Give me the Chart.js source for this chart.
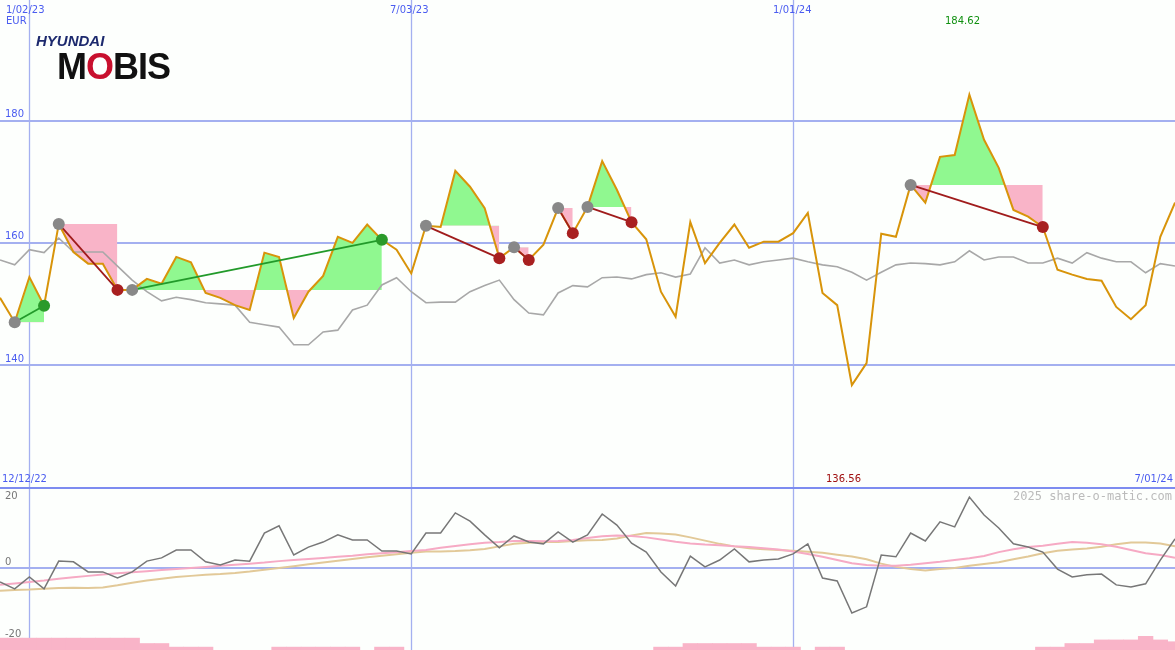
<!DOCTYPE html>
<html><head><meta charset="utf-8">
<script src="https://cdn.jsdelivr.net/npm/chart.js@4/dist/chart.umd.min.js"></script>
<style>
body{margin:0;background:#fdfffd;width:1175px;height:650px;overflow:hidden;position:relative;font-family:"DejaVu Sans",sans-serif}
#c1{position:absolute;left:0;top:0}
#c2{position:absolute;left:0;top:487px}
.t{position:absolute;font-size:10px;white-space:nowrap}
</style></head><body>
<canvas id="c1" width="1175" height="487"></canvas>
<canvas id="c2" width="1175" height="163"></canvas>
<div class="t" style="left:36px;top:32px;font:italic bold 15px 'Liberation Sans';color:#1d2a6e;letter-spacing:0px">HYUNDAI</div>
<div class="t" style="left:57px;top:46px;font:bold 36px 'Liberation Sans';color:#111;letter-spacing:-1px">M<span style="color:#c8102e">O</span>BIS</div>
<div class="t" style="left:6px;top:4px;color:#4a5cf0">1/02/23</div>
<div class="t" style="left:6px;top:15px;color:#4a5cf0">EUR</div>
<div class="t" style="left:390px;top:4px;color:#4a5cf0">7/03/23</div>
<div class="t" style="left:773px;top:4px;color:#4a5cf0">1/01/24</div>
<div class="t" style="left:945px;top:15px;color:#109010">184.62</div>
<div class="t" style="left:2px;top:473px;color:#4a5cf0">12/12/22</div>
<div class="t" style="left:826px;top:473px;color:#a01010">136.56</div>
<div class="t" style="right:2px;top:473px;color:#4a5cf0">7/01/24</div>
<div class="t" style="right:3px;top:489px;font:12px 'DejaVu Sans Mono';color:#bbbbbb">2025 share-o-matic.com</div>
<script>
const dates=[];{let d=new Date(2022,11,19);for(let i=0;i<81;i++){dates.push((d.getMonth()+1)+'/'+String(d.getDate()).padStart(2,'0')+'/'+String(d.getFullYear()).slice(2));d.setDate(d.getDate()+7);}}
const price=[151.0,147.0,154.4,149.7,163.1,158.5,156.6,156.6,152.3,152.3,154.1,153.3,157.7,156.8,151.8,151.0,149.8,149.0,158.4,157.7,147.7,152.0,154.6,161.0,160.0,163.0,160.5,158.9,155.0,162.8,162.6,171.8,169.2,165.7,157.5,159.3,157.2,159.7,165.7,161.6,165.9,173.4,168.7,163.4,160.6,152.0,147.9,163.4,156.7,160.0,163.0,159.2,160.2,160.2,161.6,164.9,151.8,149.8,136.7,140.3,161.5,161.0,169.5,166.6,174.1,174.4,184.3,176.9,172.3,165.4,164.3,162.6,155.6,154.8,154.1,153.8,149.5,147.5,149.8,161.0,166.6];
const bench=[157.2,156.4,158.9,158.4,160.8,158.5,158.5,158.5,156.2,153.9,152,150.5,151.1,150.7,150.2,150,149.8,147,146.6,146.2,143.3,143.3,145.4,145.7,149,149.8,153.1,154.3,152,150.2,150.3,150.3,152,153,153.9,150.7,148.5,148.2,151.8,153,152.8,154.3,154.4,154.1,154.8,155.1,154.4,154.9,159.2,156.7,157.2,156.4,156.9,157.2,157.5,156.9,156.4,156.1,155.2,153.9,155.2,156.4,156.7,156.6,156.4,156.9,158.7,157.2,157.7,157.7,156.7,156.7,157.5,156.7,158.4,157.5,156.9,156.9,155.1,156.6,156.2];
// signals: [startIndex, endIndex, buy?]
const signals=[[1,3,true],[4,8,false],[9,26,true],[29,34,false],[35,36,false],[38,39,false],[40,43,false],[62,71,false]];
const momentum=[-3.9,-5.8,-2.5,-5.8,1.9,1.7,-1.1,-1.1,-2.8,-1.1,1.9,2.8,5,5,1.7,0.8,2.2,1.9,9.7,11.7,3.6,5.8,7.2,9.2,7.8,7.8,4.7,4.7,3.9,9.7,9.7,15.3,13,9.2,5.6,8.9,7.2,6.7,10,7.2,9.2,15,11.9,6.9,4.4,-1.1,-5,3.3,0.3,2.2,5.3,1.7,2.2,2.5,3.9,6.7,-2.8,-3.6,-12.5,-10.8,3.6,3.1,9.7,7.5,12.8,11.4,19.7,14.7,11.1,6.7,5.8,4.4,-0.3,-2.5,-1.9,-1.7,-4.7,-5.3,-4.4,2.2,8.1];
const avgFast=[-4.7,-4.3,-3.9,-3.5,-3.0,-2.6,-2.2,-1.8,-1.5,-1.2,-0.9,-0.6,-0.3,0.0,0.3,0.6,0.9,1.2,1.5,1.9,2.2,2.5,2.8,3.1,3.4,3.8,4.1,4.4,4.7,5.0,5.6,6.1,6.6,7.0,7.2,7.5,7.5,7.4,7.5,7.8,8.3,8.8,9.0,8.9,8.5,7.9,7.3,6.8,6.5,6.3,6.0,5.8,5.5,5.1,4.6,3.9,3.1,2.2,1.3,0.8,0.6,0.6,0.9,1.3,1.7,2.2,2.7,3.3,4.4,5.2,5.8,6.2,6.7,7.2,7.0,6.6,5.9,5.0,4.1,3.6,2.8];
const avgSlow=[-6.3,-6.1,-6.0,-5.8,-5.6,-5.5,-5.6,-5.4,-4.8,-4.1,-3.5,-3.0,-2.5,-2.2,-1.9,-1.7,-1.4,-1.0,-0.5,0.0,0.5,1.0,1.5,2.0,2.5,3.0,3.4,3.8,4.2,4.6,4.6,4.7,4.9,5.3,6.0,6.7,7.0,7.2,7.2,7.5,7.7,7.8,8.2,9.0,9.7,9.6,9.3,8.5,7.6,6.7,6.0,5.5,5.2,5.0,4.8,4.5,4.2,3.7,3.2,2.4,1.2,0.3,-0.3,-0.7,-0.3,0.0,0.6,1.1,1.6,2.4,3.2,4.1,4.8,5.1,5.4,5.9,6.6,7.1,7.1,6.8,6.0];
const volume=[-19.5,-19.5,-19.5,-19.5,-19.5,-19.5,-19.5,-19.5,-19.5,-19.5,-21,-21,-22,-22,-22,null,null,null,null,-22,-22,-22,-22,-22,-22,null,-22,-22,null,null,null,null,null,null,null,null,null,null,null,null,null,null,null,null,null,-22,-22,-21,-21,-21,-21,-21,-22,-22,-22,null,-22,-22,null,null,null,null,null,null,null,null,null,null,null,null,null,-22,-22,-21,-21,-20,-20,-20,-19,-20,-20.5];
const priceTicks=[140,160,180], momTicks=[20,0,-20], dateGrid=[2,28,54];
const BLUE='#a4b0f0';
const N=dates.length;
const nul=()=>new Array(N).fill(null);
const gridPlugin=(hLines,labels,color,dy)=>({id:'grid',
 beforeDatasetsDraw(ch){const x=ch.scales.x,y=ch.scales.y,c=ch.ctx;c.save();c.strokeStyle=BLUE;
  c.lineWidth=1.3;dateGrid.forEach(i=>{const p=Math.round(x.getPixelForValue(i))+0.5;c.beginPath();c.moveTo(p,0);c.lineTo(p,ch.height);c.stroke();});
  c.lineWidth=2;hLines.forEach(v=>{const p=Math.round(y.getPixelForValue(v));c.beginPath();c.moveTo(0,p);c.lineTo(ch.width,p);c.stroke();});c.restore();},
 afterDraw(ch){const y=ch.scales.y,c=ch.ctx;c.save();c.font='10px "DejaVu Sans"';c.fillStyle=color;c.textBaseline='middle';
  labels.forEach(t=>{let p=y.getPixelForValue(t)+dy;p=Math.max(9,Math.min(ch.height-6,p));c.fillText(String(t),5,p);});c.restore();}});
const ds=[];
signals.forEach(([s,e,buy])=>{
  const lv=nul(),pv=nul();
  for(let i=s;i<=e;i++){lv[i]=price[s];pv[i]=price[i];}
  ds.push({data:lv,borderWidth:0,pointRadius:0,order:9,fill:false});
  ds.push({data:pv,borderWidth:0,pointRadius:0,order:8,fill:{target:'-1',above:'#90f890',below:'#f9b4c8'}});
});
ds.push({data:bench,borderColor:'#a8a8a8',borderWidth:1.6,pointRadius:0,order:4,tension:0});
ds.push({data:price,borderColor:'#d8940a',borderWidth:2,pointRadius:0,order:3,tension:0});
signals.forEach(([s,e,buy])=>{
  const l=nul();l[s]=price[s];l[e]=price[e];
  ds.push({data:l,spanGaps:true,borderColor:buy?'#229a2a':'#a01c1c',borderWidth:1.8,pointRadius:0,order:2});
  const g=nul();g[s]=price[s];
  ds.push({data:g,showLine:false,pointRadius:6,pointBackgroundColor:'#888',pointBorderWidth:0,order:1});
  const r=nul();r[e]=price[e];
  ds.push({data:r,showLine:false,pointRadius:6,pointBackgroundColor:buy?'#2a9a2a':'#a82020',pointBorderWidth:0,order:0});
});
const xs={display:false,offset:false};
const ys=(min,max)=>({display:false,min,max});
const base={responsive:false,animation:false,events:[],layout:{padding:0,autoPadding:false},plugins:{legend:{display:false},tooltip:{enabled:false}}};
new Chart('c1',{type:'line',data:{labels:dates,datasets:ds},plugins:[gridPlugin(priceTicks,priceTicks,'#4a5cf0',-6)],
 options:{...base,scales:{x:xs,y:ys(120,199.8)}}});
new Chart('c2',{type:'line',data:{labels:dates,datasets:[
 {type:'bar',data:volume.map(v=>v===null?null:[-22.8,v]),backgroundColor:'#f9b4c8',barPercentage:1,categoryPercentage:1,order:5},
 {data:avgSlow,borderColor:'#e2c998',borderWidth:2,pointRadius:0,order:3},
 {data:avgFast,borderColor:'#f6aac4',borderWidth:2,pointRadius:0,order:2},
 {data:momentum,borderColor:'#777',borderWidth:1.5,pointRadius:0,order:1}]},
 plugins:[gridPlugin([0],momTicks,'#777',-6),{id:'top',afterDraw(ch){const c=ch.ctx;c.save();c.fillStyle='#7d8cf0';c.fillRect(0,0,1175,2);c.restore();}}],
 options:{...base,scales:{x:xs,y:ys(-22.8,22.5)}}});
</script></body></html>
